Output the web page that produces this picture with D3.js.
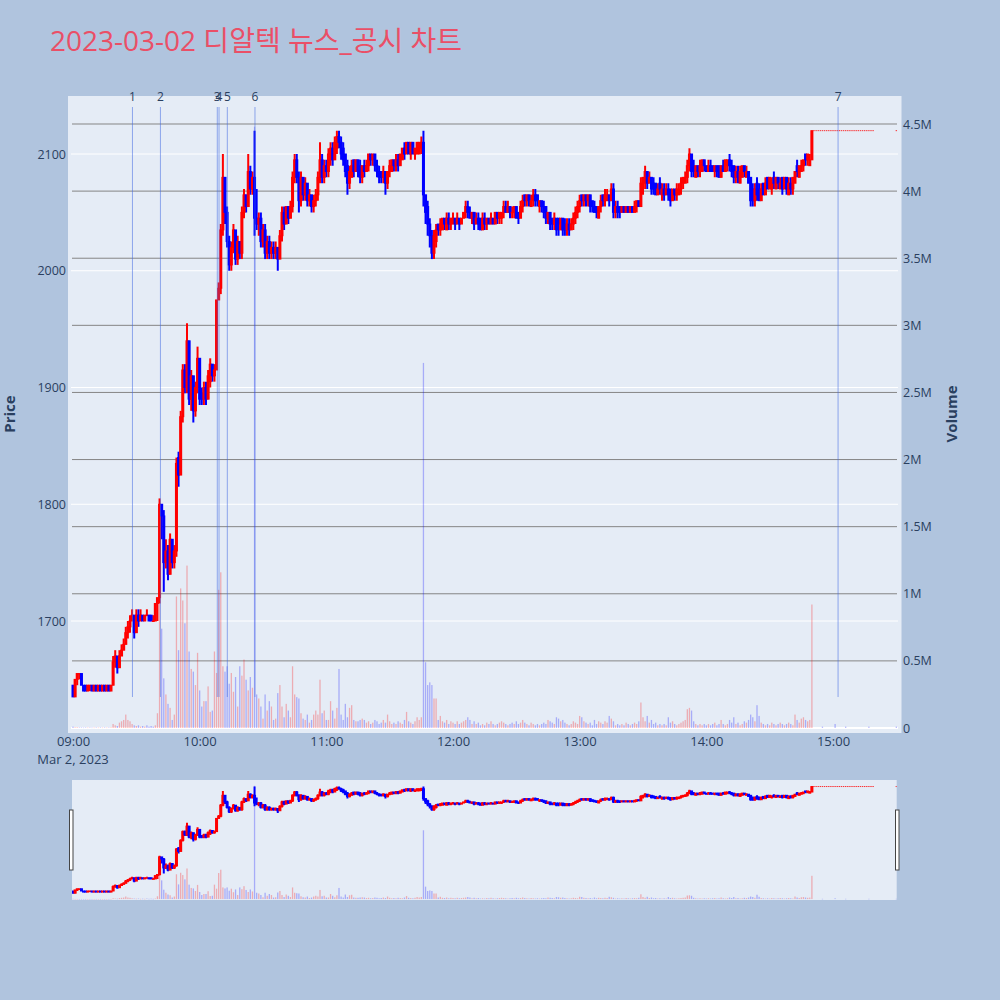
<!DOCTYPE html>
<html><head><meta charset="utf-8">
<script src="https://cdn.jsdelivr.net/npm/d3@7"></script>
<style>
html,body{margin:0;padding:0;background:#b0c4de;}
svg{display:block;}
</style></head><body>
<svg id="chart" width="1000" height="1000"></svg>
<script>
const titleText = "2023-03-02 디알텍 뉴스_공시 차트";
const dateLabel = "Mar 2, 2023";
const firstBarTime = "09:00";
const regularBarCount = 380;      // one bar per minute 09:00 - 15:19
const closingBarTime = "15:30";   // closing auction bar

const opens = [
1645,1635,1650,1655,1655,1645,1645,1640,1645,1645,
1640,1645,1640,1645,1640,1645,1640,1645,1640,1645,
1665,1670,1660,1670,1675,1680,1690,1695,1700,1705,
1690,1705,1700,1705,1700,1705,1705,1705,1700,1700,
1715,1720,1800,1790,1750,1760,1740,1770,1750,1760,
1840,1825,1875,1915,1900,1940,1890,1910,1880,1900,
1925,1895,1890,1900,1890,1905,1920,1910,1915,1975,
1985,2035,2080,2050,2025,2005,2020,2035,2010,2025,
2015,2050,2065,2055,2085,2070,2080,2045,2040,2045,
2025,2035,2015,2025,2015,2020,2015,2020,2010,2030,
2050,2040,2055,2045,2055,2080,2095,2080,2060,2080,
2065,2075,2060,2065,2055,2060,2065,2080,2095,2080,
2090,2085,2095,2105,2095,2105,2115,2110,2105,2100,
2090,2075,2080,2095,2085,2095,2090,2080,2090,2085,
2090,2100,2095,2100,2090,2085,2085,2080,2085,2075,
2085,2085,2095,2090,2095,2090,2095,2105,2100,2110,
2100,2110,2100,2100,2100,2105,2110,2065,2055,2040,
2030,2015,2025,2040,2035,2035,2045,2035,2045,2040,
2040,2045,2040,2045,2040,2045,2050,2055,2050,2045,
2050,2040,2045,2045,2035,2045,2040,2045,2040,2045,
2040,2050,2045,2045,2050,2055,2050,2055,2050,2050,
2055,2050,2045,2055,2065,2060,2065,2055,2060,2065,
2065,2055,2060,2055,2055,2045,2050,2045,2040,2045,
2045,2035,2045,2040,2035,2040,2035,2040,2045,2050,
2055,2065,2060,2065,2060,2065,2060,2055,2055,2045,
2055,2065,2060,2060,2065,2060,2070,2050,2055,2055,
2050,2055,2050,2055,2050,2055,2050,2055,2060,2055,
2075,2075,2085,2075,2080,2075,2075,2065,2075,2065,
2070,2065,2070,2070,2060,2070,2065,2065,2070,2075,
2075,2080,2090,2100,2090,2080,2090,2085,2085,2095,
2090,2085,2090,2090,2085,2090,2090,2080,2090,2085,
2090,2095,2090,2090,2080,2085,2075,2080,2090,2080,
2085,2080,2070,2060,2075,2070,2060,2075,2065,2080,
2070,2070,2080,2070,2080,2070,2080,2070,2080,2065,
2075,2070,2075,2090,2080,2085,2090,2100,2095,2090,
2095,
2120,2120,2120,2120,2120,2120,2120,2120,2120,2120,
2120,2120,2120,2120,2120,2120,2120,2120,2120,2120,
2120,2120,2120,2120,2120,2120,2120,2120,2120,2120];

const highs = [
1645,1650,1655,1655,1655,1645,1645,1645,1645,1645,
1645,1645,1645,1645,1645,1645,1645,1645,1645,1670,
1675,1670,1675,1680,1685,1695,1700,1705,1710,1705,
1710,1710,1710,1705,1705,1710,1705,1705,1705,1715,
1720,1805,1800,1795,1770,1765,1775,1770,1765,1840,
1845,1880,1920,1920,1955,1940,1915,1910,1905,1935,
1925,1900,1905,1905,1915,1925,1920,1920,1975,1990,
2040,2100,2080,2055,2030,2025,2040,2035,2030,2025,
2055,2070,2065,2100,2090,2085,2120,2070,2050,2050,
2040,2040,2030,2030,2025,2025,2025,2020,2035,2055,
2055,2055,2055,2060,2085,2100,2100,2085,2085,2080,
2080,2075,2070,2065,2065,2070,2085,2110,2100,2095,
2095,2105,2110,2110,2115,2120,2120,2115,2110,2100,
2095,2090,2095,2095,2095,2095,2095,2090,2095,2095,
2100,2100,2100,2100,2095,2090,2085,2090,2085,2085,
2095,2095,2095,2100,2100,2100,2105,2110,2110,2110,
2110,2110,2105,2110,2110,2115,2120,2065,2060,2045,
2035,2035,2040,2040,2045,2045,2045,2050,2050,2045,
2050,2045,2050,2045,2045,2050,2060,2060,2055,2050,
2050,2050,2050,2045,2050,2050,2045,2045,2050,2045,
2050,2050,2050,2050,2060,2060,2060,2055,2055,2055,
2055,2050,2060,2065,2065,2065,2065,2065,2070,2070,
2065,2060,2060,2060,2055,2050,2050,2045,2050,2045,
2045,2045,2045,2045,2045,2045,2045,2050,2055,2060,
2065,2065,2065,2065,2065,2065,2060,2060,2055,2055,
2065,2065,2070,2070,2065,2075,2075,2060,2060,2055,
2055,2055,2055,2055,2055,2055,2060,2060,2060,2080,
2080,2090,2085,2085,2080,2080,2075,2075,2080,2075,
2075,2075,2075,2070,2070,2070,2075,2075,2080,2080,
2085,2095,2105,2100,2095,2090,2090,2095,2095,2095,
2090,2095,2095,2090,2090,2090,2090,2090,2095,2095,
2095,2100,2095,2090,2090,2090,2090,2090,2090,2090,
2085,2080,2075,2075,2080,2075,2075,2075,2080,2080,
2080,2080,2085,2080,2080,2080,2080,2080,2080,2080,
2080,2080,2085,2095,2090,2095,2095,2100,2100,2100,
2120,
2120,2120,2120,2120,2120,2120,2120,2120,2120,2120,
2120,2120,2120,2120,2120,2120,2120,2120,2120,2120,
2120,2120,2120,2120,2120,2120,2120,2120,2120,2120];

const lows = [
1635,1635,1645,1650,1645,1640,1640,1640,1640,1640,
1640,1640,1640,1640,1640,1640,1640,1640,1640,1645,
1660,1655,1660,1670,1675,1680,1685,1690,1700,1685,
1690,1695,1700,1700,1700,1705,1700,1700,1700,1700,
1700,1715,1770,1725,1745,1735,1740,1745,1745,1755,
1815,1825,1870,1895,1895,1885,1880,1870,1875,1895,
1885,1885,1885,1885,1890,1900,1905,1905,1915,1975,
1980,2030,2040,2020,2000,2000,2015,2005,2005,2010,
2010,2045,2050,2055,2065,2065,2030,2035,2030,2020,
2020,2010,2010,2010,2010,2010,2010,2000,2010,2025,
2035,2040,2040,2045,2050,2075,2075,2050,2055,2060,
2060,2055,2055,2050,2050,2055,2060,2075,2075,2075,
2080,2080,2090,2090,2095,2100,2105,2095,2090,2080,
2065,2070,2080,2080,2085,2080,2075,2075,2080,2085,
2085,2090,2090,2085,2080,2075,2075,2075,2065,2070,
2080,2085,2085,2085,2085,2090,2095,2095,2100,2100,
2095,2100,2095,2100,2100,2100,2055,2040,2030,2020,
2010,2010,2020,2030,2030,2035,2035,2035,2035,2035,
2040,2035,2040,2035,2040,2045,2045,2045,2045,2040,
2035,2040,2035,2035,2035,2035,2035,2040,2040,2040,
2040,2040,2040,2040,2045,2050,2050,2045,2045,2045,
2045,2040,2045,2050,2055,2055,2055,2055,2055,2055,
2055,2050,2050,2045,2040,2040,2035,2035,2035,2030,
2030,2035,2030,2030,2030,2030,2035,2035,2040,2045,
2050,2055,2055,2055,2055,2050,2050,2050,2045,2045,
2050,2055,2055,2060,2055,2060,2045,2045,2045,2045,
2050,2050,2050,2050,2050,2050,2050,2050,2055,2055,
2065,2070,2070,2075,2065,2065,2065,2065,2065,2060,
2060,2065,2060,2055,2060,2060,2060,2065,2065,2070,
2075,2075,2085,2080,2080,2080,2080,2080,2085,2085,
2085,2085,2085,2085,2080,2080,2080,2080,2085,2085,
2085,2085,2080,2075,2075,2075,2075,2080,2080,2080,
2075,2055,2055,2055,2060,2060,2060,2065,2065,2070,
2070,2065,2070,2070,2070,2070,2065,2070,2065,2065,
2065,2065,2075,2080,2080,2085,2085,2090,2090,2090,
2095,
2120,2120,2120,2120,2120,2120,2120,2120,2120,2120,
2120,2120,2120,2120,2120,2120,2120,2120,2120,2120,
2120,2120,2120,2120,2120,2120,2120,2120,2120,2120];

const closes = [
1635,1650,1655,1655,1645,1640,1640,1645,1645,1640,
1645,1640,1645,1640,1645,1640,1645,1640,1645,1665,
1670,1660,1670,1675,1680,1690,1695,1700,1705,1690,
1705,1700,1705,1700,1705,1705,1700,1700,1700,1715,
1720,1800,1790,1750,1760,1740,1770,1750,1760,1835,
1825,1875,1915,1900,1940,1890,1910,1880,1900,1925,
1890,1890,1900,1890,1910,1920,1910,1915,1975,1985,
2035,2080,2050,2025,2005,2020,2035,2010,2025,2015,
2050,2065,2055,2085,2070,2080,2045,2040,2045,2025,
2035,2015,2025,2015,2020,2015,2020,2010,2030,2050,
2040,2055,2045,2055,2080,2095,2080,2060,2080,2065,
2075,2060,2065,2055,2060,2065,2080,2095,2080,2090,
2085,2100,2105,2095,2110,2115,2110,2100,2095,2085,
2075,2085,2090,2085,2095,2085,2080,2090,2085,2090,
2100,2095,2100,2090,2085,2080,2080,2085,2075,2085,
2090,2095,2090,2095,2090,2100,2105,2100,2110,2100,
2110,2100,2105,2110,2110,2110,2065,2050,2040,2030,
2015,2030,2035,2035,2040,2045,2040,2045,2040,2045,
2045,2040,2045,2040,2045,2050,2055,2050,2045,2050,
2040,2045,2040,2035,2045,2040,2045,2040,2045,2040,
2050,2045,2050,2050,2055,2050,2055,2050,2050,2055,
2045,2045,2055,2060,2060,2065,2060,2060,2065,2060,
2060,2060,2055,2050,2045,2050,2040,2040,2045,2035,
2040,2045,2035,2035,2040,2035,2040,2045,2050,2055,
2060,2060,2065,2060,2065,2055,2055,2050,2050,2055,
2060,2060,2065,2065,2060,2070,2050,2055,2050,2050,
2055,2050,2055,2050,2055,2050,2055,2060,2055,2075,
2080,2085,2075,2080,2070,2070,2065,2070,2070,2070,
2065,2070,2065,2060,2070,2065,2070,2070,2075,2080,
2080,2090,2100,2085,2085,2090,2085,2090,2095,2090,
2085,2090,2085,2085,2090,2085,2080,2090,2085,2095,
2095,2090,2085,2080,2085,2080,2085,2090,2085,2085,
2075,2060,2060,2070,2065,2060,2070,2065,2075,2070,
2080,2075,2075,2080,2075,2075,2070,2080,2070,2075,
2070,2080,2085,2085,2090,2090,2095,2095,2100,2095,
2120,
2120,2120,2120,2120,2120,2120,2120,2120,2120,2120,
2120,2120,2120,2120,2120,2120,2120,2120,2120,2120,
2120,2120,2120,2120,2120,2120,2120,2120,2120,2120];

// volume in millions of shares
const volumeMillions = [
.01,.005,.005,.004,.004,.003,.004,.003,.004,.003,
.003,.004,.003,.004,.003,.004,.003,.004,.005,.03,
.02,.015,.04,.05,.06,.1,.06,.05,.03,.02,
.015,.02,.01,.015,.01,.02,.01,.015,.01,.02,
.11,.95,.74,.37,.25,.18,.15,.06,.1,.98,
.58,1.04,.95,.78,1.21,.57,.44,.42,.32,.56,
.28,.16,.2,.2,.31,.12,.13,.57,.41,1.03,
1.16,.46,.42,.46,.33,.41,.27,.38,.16,.46,
.39,.51,.36,.28,.38,.3,4.48,.25,.22,.16,
.07,.25,.13,.2,.16,.06,.07,.26,.32,.16,
.08,.18,.13,.08,.46,.25,.23,.22,.11,.07,
.06,.1,.04,.06,.1,.13,.1,.36,.11,.13,
.06,.06,.2,.13,.07,.15,.44,.1,.06,.18,
.08,.15,.17,.06,.05,.05,.06,.07,.06,.04,
.05,.03,.04,.06,.05,.03,.04,.06,.04,.1,
.05,.03,.04,.03,.05,.04,.03,.06,.12,.05,
.04,.03,.05,.08,.06,.08,2.72,.49,.32,.34,
.32,.22,.22,.06,.09,.05,.04,.06,.03,.05,
.04,.03,.05,.03,.04,.05,.06,.08,.06,.03,
.05,.03,.04,.02,.03,.02,.04,.03,.05,.03,
.02,.03,.04,.05,.04,.03,.02,.03,.04,.03,
.05,.03,.04,.06,.04,.03,.02,.04,.03,.02,
.03,.02,.03,.04,.03,.06,.05,.04,.03,.08,
.07,.05,.06,.04,.03,.02,.03,.05,.04,.03,
.09,.08,.05,.04,.03,.04,.02,.06,.03,.05,
.04,.03,.05,.04,.09,.07,.05,.02,.03,.02,
.03,.02,.04,.03,.02,.03,.04,.03,.05,.19,
.08,.05,.09,.04,.06,.03,.04,.02,.03,.02,
.03,.02,.08,.04,.05,.03,.02,.03,.04,.05,
.06,.14,.15,.13,.05,.03,.02,.03,.02,.03,
.02,.03,.02,.03,.04,.02,.03,.06,.03,.02,
.03,.06,.04,.08,.03,.04,.02,.03,.05,.04,
.06,.1,.08,.05,.17,.09,.04,.03,.02,.03,
.02,.04,.03,.02,.03,.04,.03,.02,.03,.04,
.03,.02,.1,.06,.04,.07,.08,.06,.05,.06,
.92,
0,0,0,0,.01,0,0,0,0,0,
.03,0,0,0,0,.01,0,0,0,0,
0,0,0,0,0,0,.01,0,0,.01];

const priceTicks = [1700, 1800, 1900, 2000, 2100];
const volumeTicks = [0, 0.5, 1, 1.5, 2, 2.5, 3, 3.5, 4, 4.5];
const volumeTickLabels = ["0","0.5M","1M","1.5M","2M","2.5M","3M","3.5M","4M","4.5M"];
const hourTicks = ["09:00","10:00","11:00","12:00","13:00","14:00","15:00"];
const newsLabels = ["1","2","3","4","5","6","7"];
const newsTimes = ["09:28:10","09:41:25","10:08:21","10:09:10","10:13:06","10:26:12","15:02:24"];

// ---------------------------------------------------------------
const FONT = "'Open Sans','Noto Sans CJK KR',sans-serif";
const RED = "#ff0000", BLUE = "#0000ff", AXC = "#2a3f5f";
const parseT = s => { const [h,m,sec] = s.split(":").map(Number); return new Date(2023,2,2,h,m,sec||0); };
const start = parseT(firstBarTime);
const bars = opens.map((o,i) => ({
  t: i < regularBarCount ? d3.timeMinute.offset(start, i) : parseT(closingBarTime),
  o, h: highs[i], l: lows[i], c: closes[i], v: volumeMillions[i]
}));

const svg = d3.select("#chart").attr("font-family", FONT);
const M = {left:68, right:901.5, top:96, bottom:733};
const S = {left:72, right:896.7, top:780, bottom:900};

const x = d3.scaleTime().domain([parseT("09:00"), parseT("15:00")]).range([73, 833]);
const yP = d3.scaleLinear().domain([1700, 2100]).range([621, 154]);
const yV = d3.scaleLinear().domain([0, 4.5]).range([728, 124]);
const yPs = d3.scaleLinear().domain([yP.invert(M.bottom), yP.invert(M.top)]).range([S.bottom, S.top]);
const yVs = d3.scaleLinear().domain([yV.invert(M.bottom), yV.invert(M.top)]).range([S.bottom, S.top]);

const defs = svg.append("defs");
defs.append("clipPath").attr("id","clipMain").append("rect")
  .attr("x",M.left).attr("y",M.top).attr("width",M.right-M.left).attr("height",M.bottom-M.top);
defs.append("clipPath").attr("id","clipSlider").append("rect")
  .attr("x",S.left).attr("y",S.top).attr("width",S.right-S.left).attr("height",S.bottom-S.top);

// title
svg.append("text").attr("x",50).attr("y",51).attr("font-size",28).attr("fill","#ea4f67").text(titleText);

// main background
svg.append("rect").attr("x",M.left).attr("y",M.top).attr("width",M.right-M.left).attr("height",M.bottom-M.top).attr("fill","#e5ecf6");

// price grid (white)
svg.append("g").selectAll("line").data(priceTicks).join("line")
  .attr("x1",71).attr("x2",898).attr("y1",d=>yP(d)).attr("y2",d=>yP(d))
  .attr("stroke","#ffffff").attr("stroke-width",1);
// volume grid (grey)
svg.append("g").selectAll("line").data(volumeTicks.filter(d=>d>0)).join("line")
  .attr("x1",72).attr("x2",897).attr("y1",d=>yV(d)).attr("y2",d=>yV(d))
  .attr("stroke","#858585").attr("stroke-width",1);
// volume zero line
svg.append("line").attr("x1",71).attr("x2",898).attr("y1",yV(0)).attr("y2",yV(0))
  .attr("stroke","#ffffff").attr("stroke-width",2);

function drawTraces(g, yp, yv){
  g.selectAll("rect.vol").data(bars.filter(d=>d.v>0)).join("rect").attr("class","vol")
    .attr("x",d=>x(d.t)-0.65).attr("width",1.3)
    .attr("y",d=>yv(d.v)).attr("height",d=>Math.max(0.5, yv(0)-yv(d.v)))
    .attr("fill",d=>d.c>d.o?RED:BLUE).attr("fill-opacity",0.27);
  const moving = bars.filter(d=>d.h>d.l);
  g.selectAll("line.wick").data(moving).join("line").attr("class","wick")
    .attr("x1",d=>x(d.t)).attr("x2",d=>x(d.t))
    .attr("y1",d=>yp(d.h)).attr("y2",d=>yp(d.l))
    .attr("stroke",d=>d.c>=d.o?RED:BLUE).attr("stroke-width",2);
  g.selectAll("rect.body").data(moving).join("rect").attr("class","body")
    .attr("x",d=>x(d.t)-1.5).attr("width",3)
    .attr("y",d=>yp(Math.max(d.o,d.c))-0.5)
    .attr("height",d=>Math.max(1.5, Math.abs(yp(d.o)-yp(d.c))+1))
    .attr("fill",d=>d.c>=d.o?RED:BLUE);
  g.selectAll("rect.flat").data(bars.filter(d=>d.h===d.l)).join("rect").attr("class","flat")
    .attr("x",d=>x(d.t)-0.7).attr("width",1.4)
    .attr("y",d=>yp(d.c)-0.5).attr("height",1)
    .attr("fill",RED).attr("fill-opacity",0.8);
}

const gMain = svg.append("g").attr("clip-path","url(#clipMain)");
drawTraces(gMain, yP, yV);

// news lines
const gNews = svg.append("g");
gNews.selectAll("line").data(newsTimes).join("line")
  .attr("x1",d=>x(parseT(d))).attr("x2",d=>x(parseT(d)))
  .attr("y1",107).attr("y2",697)
  .attr("stroke","royalblue").attr("stroke-opacity",0.55).attr("stroke-width",1);
gNews.selectAll("text").data(newsTimes).join("text")
  .attr("x",d=>x(parseT(d))).attr("y",101).attr("text-anchor","middle")
  .attr("font-size",12).attr("fill",AXC).text((d,i)=>newsLabels[i]);

// axes
const gx = svg.append("g").attr("transform",`translate(0,${M.bottom})`)
  .call(d3.axisBottom(x).tickValues(hourTicks.map(parseT)).tickFormat(d3.timeFormat("%H:%M")).tickSize(0).tickPadding(4));
gx.select(".domain").remove();
gx.attr("font-size",13).attr("font-family",FONT).attr("color",AXC);
svg.append("text").attr("x",x(parseT("09:00"))).attr("y",764).attr("text-anchor","middle")
  .attr("font-size",13).attr("fill",AXC).text(dateLabel);

const gyl = svg.append("g").attr("transform",`translate(${M.left},0)`)
  .call(d3.axisLeft(yP).tickValues(priceTicks).tickFormat(d3.format("d")).tickSize(0).tickPadding(2));
gyl.select(".domain").remove();
gyl.attr("font-size",12.5).attr("font-family",FONT).attr("color",AXC);

const gyr = svg.append("g").attr("transform",`translate(902,0)`)
  .call(d3.axisRight(yV).tickValues(volumeTicks).tickFormat((d,i)=>volumeTickLabels[i]).tickSize(0).tickPadding(1));
gyr.select(".domain").remove();
gyr.attr("font-size",12.5).attr("font-family",FONT).attr("color",AXC);

svg.append("text").attr("transform","translate(15,414) rotate(-90)").attr("text-anchor","middle")
  .attr("font-size",15).attr("font-weight","bold").attr("fill",AXC).text("Price");
svg.append("text").attr("transform","translate(957,414) rotate(-90)").attr("text-anchor","middle")
  .attr("font-size",15).attr("font-weight","bold").attr("fill",AXC).text("Volume");

// range slider
svg.append("rect").attr("x",S.left).attr("y",S.top).attr("width",S.right-S.left).attr("height",S.bottom-S.top).attr("fill","#e5ecf6");
const gS = svg.append("g").attr("clip-path","url(#clipSlider)");
drawTraces(gS, yPs, yVs);
svg.append("g").selectAll("rect").data([69.5, 895.5]).join("rect")
  .attr("x",d=>d).attr("y",810).attr("width",3.5).attr("height",60)
  .attr("fill","#ffffff").attr("stroke","#444444").attr("stroke-width",1);
</script>
</body></html>
